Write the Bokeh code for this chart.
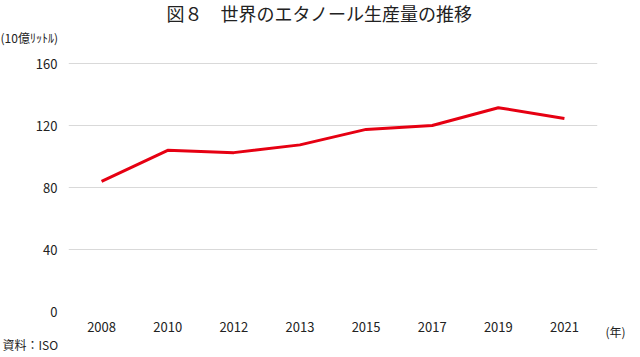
from bokeh.plotting import figure
from bokeh.models import FactorRange, Range1d, FixedTicker, Title, LinearAxis
from bokeh.embed import file_html
from bokeh.resources import INLINE

years = ["2008", "2010", "2012", "2013", "2015", "2017", "2019", "2021"]
production = [84, 104, 102.5, 107.5, 117.5, 120, 131.5, 124.5]
y_ticks = [0, 40, 80, 120, 160]

title_text = "図８　世界のエタノール生産量の推移"
unit_text = "(10億ﾘｯﾄﾙ)"
xunit_text = "(年)"
source_text = "資料：ISO"

FONT = "Noto Sans CJK JP"
TXT = "#222222"

p = figure(width=640, height=357, output_backend="svg", toolbar_location=None,
           x_range=FactorRange(factors=years, range_padding=0),
           y_range=Range1d(0, 161.3),
           min_border_left=68, min_border_right=43, min_border_top=61, min_border_bottom=46)
p.outline_line_color = None

p.line(years, production, line_color="#e60012", line_width=3)

p.xgrid.grid_line_color = None
p.ygrid.grid_line_color = "#d9d9d9"
p.ygrid.grid_line_width = 1
p.yaxis.ticker = FixedTicker(ticks=y_ticks)

for ax in (p.xaxis[0], p.yaxis[0]):
    ax.axis_line_color = None
    ax.major_tick_line_color = None
    ax.minor_tick_line_color = None
    ax.major_tick_out = 0
    ax.minor_tick_out = 0
    ax.major_label_text_font = FONT
    ax.major_label_text_font_size = "13px"
    ax.major_label_text_color = TXT
p.yaxis.major_label_standoff = 11
p.xaxis.major_label_standoff = 10

# "(年)" beside the last year label: a right-hand axis label at the foot of the axis
unit_axis = LinearAxis(ticker=FixedTicker(ticks=[0]),
                       major_label_overrides={0: "\n\n" + xunit_text})
unit_axis.axis_line_color = None
unit_axis.major_tick_line_color = None
unit_axis.minor_tick_line_color = None
unit_axis.major_tick_out = 0
unit_axis.minor_tick_out = 0
unit_axis.major_label_standoff = 8
unit_axis.major_label_text_font = FONT
unit_axis.major_label_text_font_size = "12px"
unit_axis.major_label_text_color = TXT
p.add_layout(unit_axis, "right")

p.add_layout(Title(text=unit_text, align="left", offset=-68, text_font=FONT,
                   text_font_size="12px", text_font_style="normal",
                   text_color=TXT, standoff=32), "above")
p.add_layout(Title(text=title_text, align="left", offset=98, text_font=FONT,
                   text_font_size="18px", text_font_style="normal",
                   text_color=TXT, standoff=-30), "above")
p.add_layout(Title(text=source_text, align="left", offset=-66, text_font=FONT,
                   text_font_size="12px", text_font_style="normal",
                   text_color=TXT, standoff=-2), "below")

open("out.html", "w").write(file_html(p, INLINE))
